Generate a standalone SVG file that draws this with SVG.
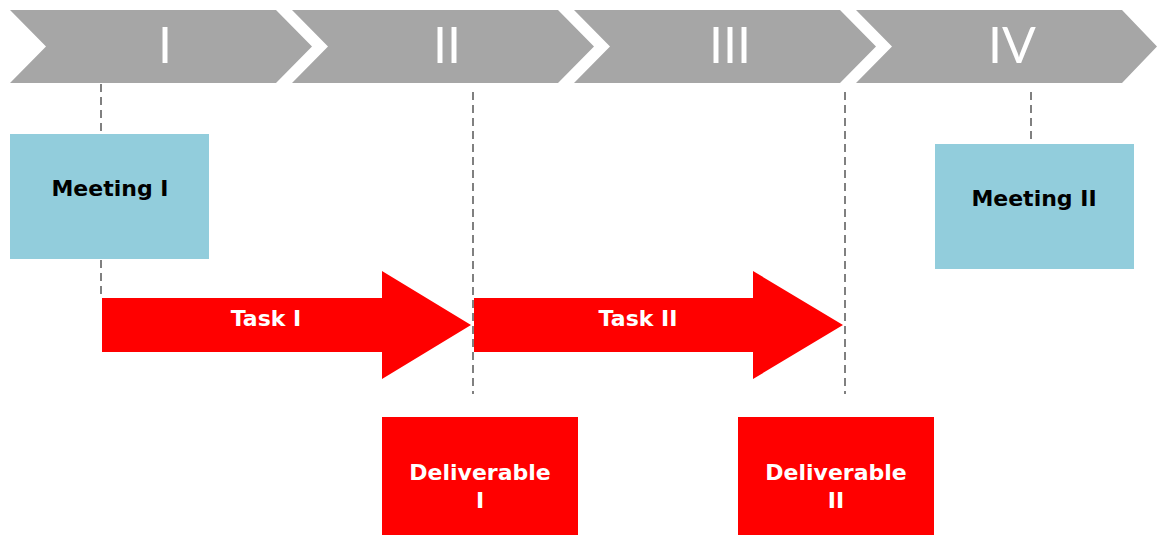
<svg xmlns="http://www.w3.org/2000/svg" width="1157" height="535" viewBox="0 0 1157 535">
  <style>
    .phase { fill: #A6A6A6; }
    .phase-label { font-family: "Lato", "Open Sans", "DejaVu Sans", sans-serif; font-weight: 400; font-size: 50px; fill: #FFFFFF; text-anchor: middle; }
    .guide { stroke: #808080; stroke-width: 2; stroke-dasharray: 8 5; fill: none; }
    .meeting { fill: #92CDDC; }
    .task { fill: #FF0000; }
    .lbl { font-family: "DejaVu Sans", "Liberation Sans", sans-serif; font-weight: bold; font-size: 22px; text-anchor: middle; }
    .dark { fill: #000000; }
    .light { fill: #FFFFFF; }
  </style>

  <!-- phase chevrons along the top -->
  <g id="phase-1">
    <polygon class="phase" points="10,10 276,10 312,46.5 276,83 10,83 46,46.5"/>
    <text class="phase-label" x="165" y="63">I</text>
  </g>
  <g id="phase-2">
    <polygon class="phase" points="292,10 558,10 594,46.5 558,83 292,83 328,46.5"/>
    <text class="phase-label" x="447" y="63">II</text>
  </g>
  <g id="phase-3">
    <polygon class="phase" points="574,10 840,10 876,46.5 840,83 574,83 610,46.5"/>
    <text class="phase-label" x="730" y="63">III</text>
  </g>
  <g id="phase-4">
    <polygon class="phase" points="856,10 1122,10 1157,46.5 1122,83 856,83 892,46.5"/>
    <text class="phase-label" x="1012" y="63">IV</text>
  </g>

  <!-- dashed guide lines -->
  <g id="connectors">
    <line class="guide" x1="101" y1="84" x2="101" y2="134"/>
    <line class="guide" x1="101" y1="260" x2="101" y2="298"/>
    <line class="guide" x1="473" y1="92" x2="473" y2="394"/>
    <line class="guide" x1="845" y1="92" x2="845" y2="394"/>
    <line class="guide" x1="1031" y1="92" x2="1031" y2="144"/>
  </g>

  <g id="meeting-1">
    <rect class="meeting" x="10" y="134" width="199" height="125"/>
    <text class="lbl dark" x="110" y="196">Meeting I</text>
  </g>
  <g id="meeting-2">
    <rect class="meeting" x="935" y="144" width="199" height="125"/>
    <text class="lbl dark" x="1034" y="206">Meeting II</text>
  </g>

  <g id="task-1">
    <polygon class="task" points="102,298 382,298 382,271 471,325 382,379 382,352 102,352"/>
    <text class="lbl light" x="266" y="326">Task I</text>
  </g>
  <g id="task-2">
    <polygon class="task" points="474,298 753,298 753,271 843,325 753,379 753,352 474,352"/>
    <text class="lbl light" x="638" y="326">Task II</text>
  </g>

  <g id="deliverable-1">
    <rect class="task" x="382" y="417" width="196" height="118"/>
    <text class="lbl light" x="480" y="480">Deliverable</text>
    <text class="lbl light" x="480" y="508">I</text>
  </g>
  <g id="deliverable-2">
    <rect class="task" x="738" y="417" width="196" height="118"/>
    <text class="lbl light" x="836" y="480">Deliverable</text>
    <text class="lbl light" x="836" y="508">II</text>
  </g>
</svg>
